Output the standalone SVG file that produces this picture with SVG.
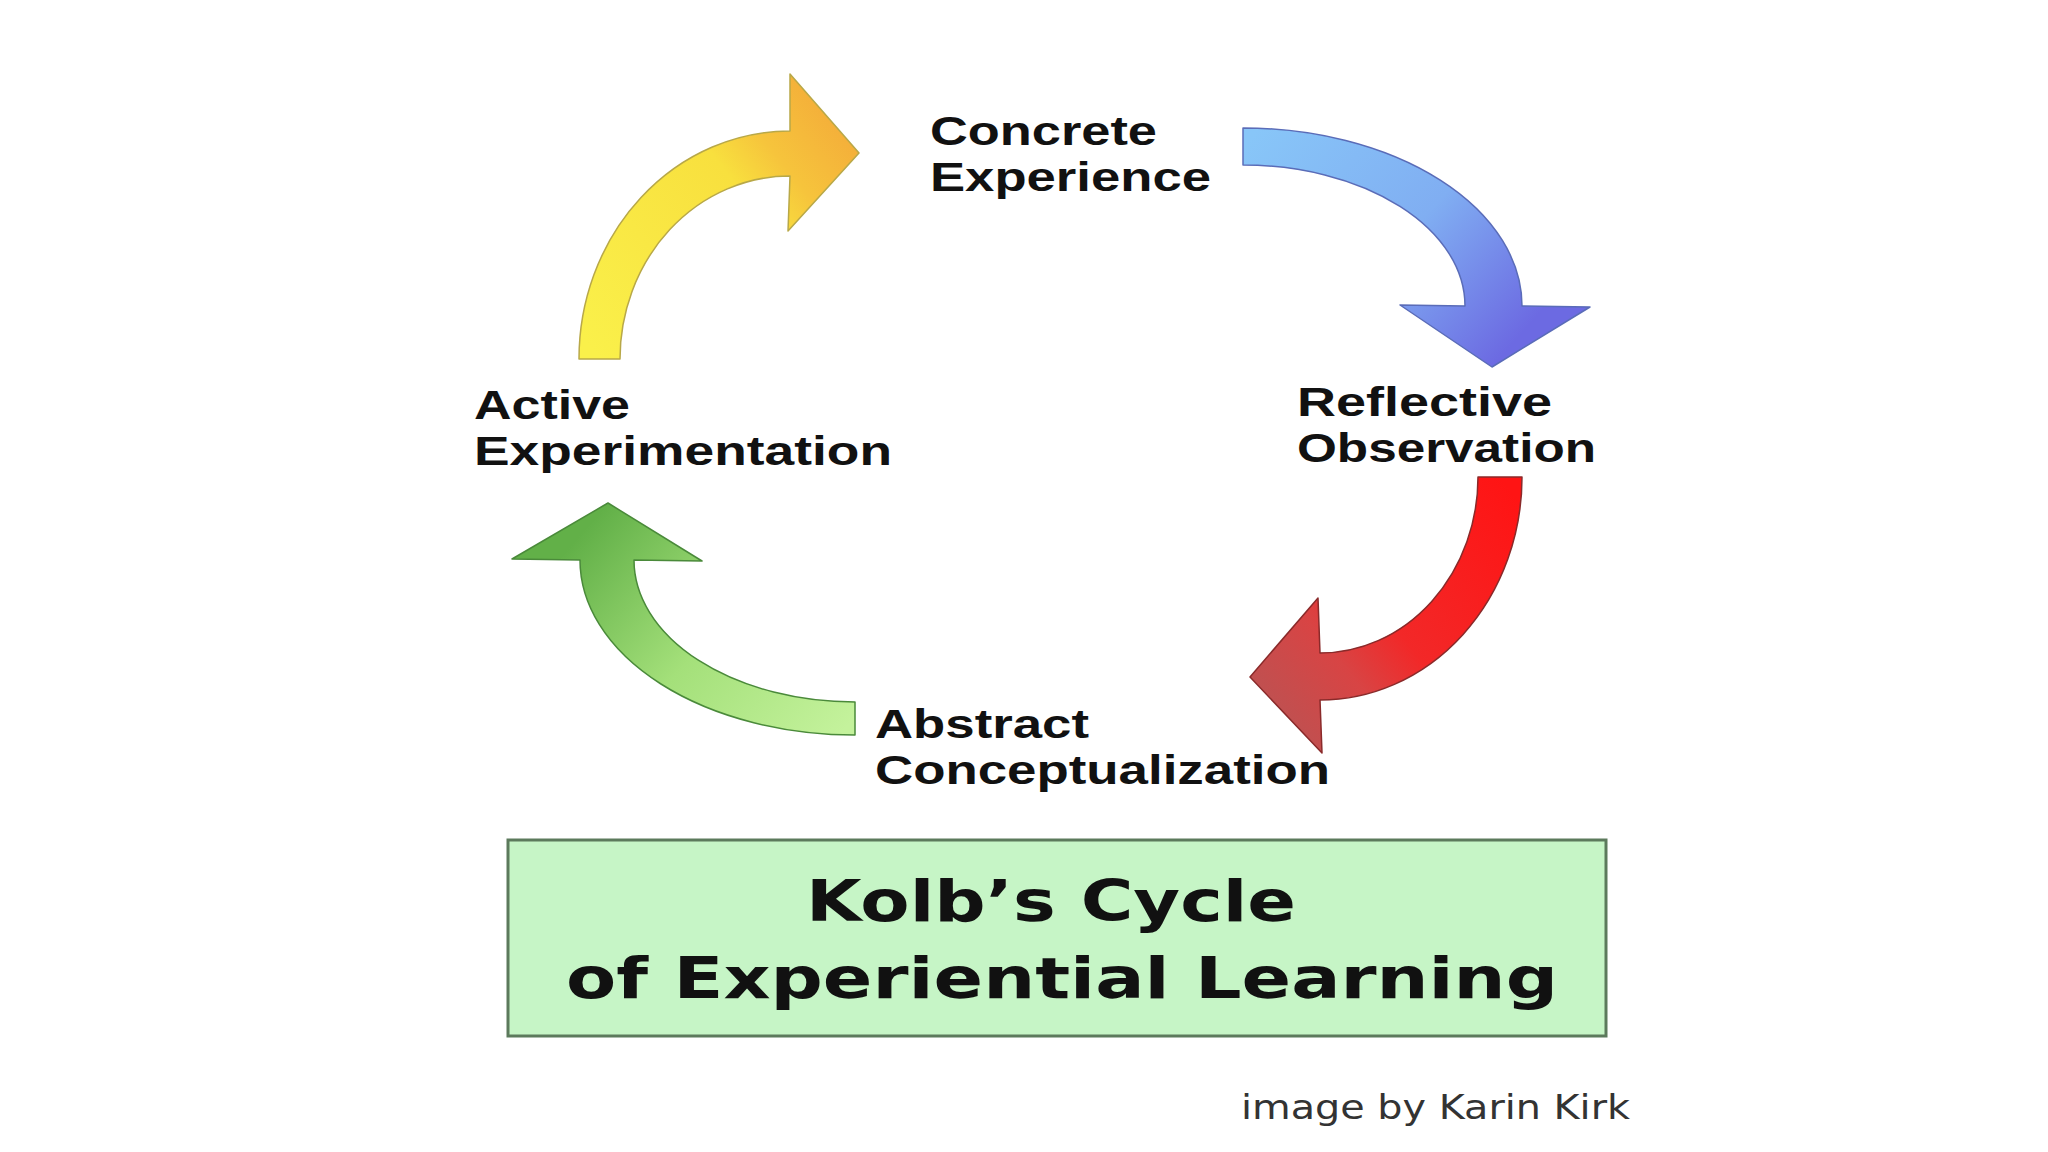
<svg xmlns="http://www.w3.org/2000/svg" width="2048" height="1152" viewBox="0 0 2048 1152">
  <style>
    .lbl { font-family: "Liberation Sans", Arial, sans-serif; font-weight: bold; font-size: 41px; fill: #111; }
    .title { font-family: "DejaVu Sans", Verdana, sans-serif; font-weight: bold; font-size: 57px; fill: #111; text-anchor: middle; }
    .credit { font-family: "DejaVu Sans", Verdana, sans-serif; font-size: 34px; fill: #333; }
    .arrow { stroke-width: 1.5; stroke-linejoin: round; }
  </style>
  <defs>
    <linearGradient id="gYellow" gradientUnits="userSpaceOnUse" x1="600" y1="359" x2="859" y2="153">
      <stop offset="0" stop-color="#faf04a"/>
      <stop offset="0.65" stop-color="#f8e03e"/>
      <stop offset="0.8" stop-color="#f6c43c"/>
      <stop offset="1" stop-color="#f4b03a"/>
    </linearGradient>
    <linearGradient id="gBlue" gradientUnits="userSpaceOnUse" x1="1243" y1="146" x2="1492" y2="367">
      <stop offset="0" stop-color="#88c6f8"/>
      <stop offset="0.55" stop-color="#80aef2"/>
      <stop offset="1" stop-color="#6c6ae2"/>
    </linearGradient>
    <linearGradient id="gRed" gradientUnits="userSpaceOnUse" x1="1500" y1="477" x2="1250" y2="677">
      <stop offset="0" stop-color="#ff1414"/>
      <stop offset="0.55" stop-color="#f22828"/>
      <stop offset="0.75" stop-color="#d84444"/>
      <stop offset="1" stop-color="#c05050"/>
    </linearGradient>
    <linearGradient id="gGreen" gradientUnits="userSpaceOnUse" x1="855" y1="718" x2="608" y2="503">
      <stop offset="0" stop-color="#c4f29c"/>
      <stop offset="0.5" stop-color="#a4e07a"/>
      <stop offset="1" stop-color="#62b048"/>
    </linearGradient>
  </defs>

  <rect width="2048" height="1152" fill="#ffffff"/>

  <g id="connectors">
    <path id="arrow-ae-ce" class="arrow" fill="url(#gYellow)" stroke="#b8a848"
      d="M579,359 A211,228 0 0 1 790,131 L790,74 L859,153 L788,231 L790,176 A170,183 0 0 0 620,359 Z"/>
    <path id="arrow-ce-ro" class="arrow" fill="url(#gBlue)" stroke="#5a6cb8"
      d="M1243,128 A279,178 0 0 1 1522,306 L1590,307 L1492,367 L1400,305 L1465,306 A222,141 0 0 0 1243,165 Z"/>
    <path id="arrow-ro-ac" class="arrow" fill="url(#gRed)" stroke="#8a2a2a"
      d="M1522,477 A202,223 0 0 1 1320,700 L1322,753 L1250,677 L1318,598 L1320,653 A158,176 0 0 0 1478,477 Z"/>
    <path id="arrow-ac-ae" class="arrow" fill="url(#gGreen)" stroke="#4a8a3a"
      d="M855,735 A275,175 0 0 1 580,560 L512,559 L608,503 L702,561 L634,560 A221,142 0 0 0 855,702 Z"/>
  </g>

  <g id="node-concrete-experience">
    <text class="lbl" x="930" y="145" textLength="227" lengthAdjust="spacingAndGlyphs">Concrete</text>
    <text class="lbl" x="930" y="191" textLength="281" lengthAdjust="spacingAndGlyphs">Experience</text>
  </g>
  <g id="node-reflective-observation">
    <text class="lbl" x="1297" y="416" textLength="255" lengthAdjust="spacingAndGlyphs">Reflective</text>
    <text class="lbl" x="1297" y="462" textLength="299" lengthAdjust="spacingAndGlyphs">Observation</text>
  </g>
  <g id="node-abstract-conceptualization">
    <text class="lbl" x="875" y="738" textLength="214" lengthAdjust="spacingAndGlyphs">Abstract</text>
    <text class="lbl" x="875" y="784" textLength="455" lengthAdjust="spacingAndGlyphs">Conceptualization</text>
  </g>
  <g id="node-active-experimentation">
    <text class="lbl" x="474" y="419" textLength="156" lengthAdjust="spacingAndGlyphs">Active</text>
    <text class="lbl" x="474" y="465" textLength="418" lengthAdjust="spacingAndGlyphs">Experimentation</text>
  </g>

  <g id="title-box">
    <rect x="508" y="840" width="1098" height="196" fill="#c6f5c6" stroke="#5c7a5c" stroke-width="3"/>
    <text class="title" x="1051" y="921" textLength="490" lengthAdjust="spacingAndGlyphs">Kolb’s Cycle</text>
    <text class="title" x="1062" y="998" textLength="992" lengthAdjust="spacingAndGlyphs">of Experiential Learning</text>
  </g>

  <g id="credit">
    <text class="credit" x="1241" y="1119" textLength="389" lengthAdjust="spacingAndGlyphs">image by Karin Kirk</text>
  </g>
</svg>
